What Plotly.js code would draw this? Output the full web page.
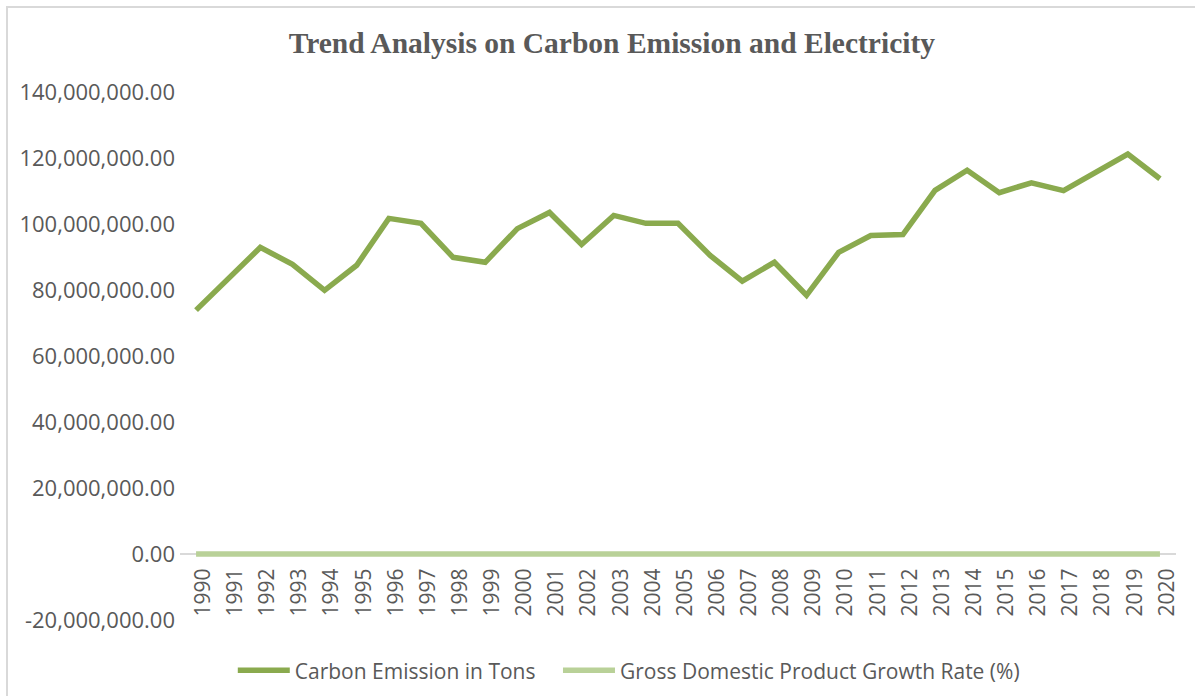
<!DOCTYPE html>
<html>
<head>
<meta charset="utf-8">
<script src="https://cdn.plot.ly/plotly-3.0.1.min.js"></script>
<style>
  html, body { margin: 0; padding: 0; background: #ffffff; }
  #wrap { position: relative; width: 1195px; height: 696px; overflow: hidden; }
  #frame { position: absolute; left: 6px; top: 6px; width: 1200px; height: 700px;
           border-left: 2px solid #d9d9d9; border-top: 2px solid #d9d9d9; pointer-events: none; }
  #chart { position: absolute; left: 0; top: 0; width: 1195px; height: 696px; }
</style>
</head>
<body>
<div id="wrap">
  <div id="chart"></div>
  <div id="frame"></div>
</div>
<script>
const years = ['1990','1991','1992','1993','1994','1995','1996','1997','1998','1999',
               '2000','2001','2002','2003','2004','2005','2006','2007','2008','2009',
               '2010','2011','2012','2013','2014','2015','2016','2017','2018','2019','2020'];

const carbonEmissionTons = [
  73900000, 83600000, 92900000, 87800000, 79900000, 87500000, 101700000, 100200000, 89900000, 88400000,
  98600000, 103500000, 93800000, 102600000, 100200000, 100200000, 90500000, 82700000, 88400000, 78400000,
  91400000, 96500000, 96800000, 110200000, 116300000, 109500000, 112500000, 110100000, 115500000, 121200000,
  113700000
];

const gdpGrowthRate = [
  0, 0, 0, 0, 0, 0, 0, 0, 0, 0,
  0, 0, 0, 0, 0, 0, 0, 0, 0, 0,
  0, 0, 0, 0, 0, 0, 0, 0, 0, 0,
  0
];

const yTickValues = [-20000000, 0, 20000000, 40000000, 60000000, 80000000, 100000000, 120000000, 140000000];
const yTickLabels = yTickValues.map(v =>
  (v < 0 ? '-' : '') + Math.abs(v).toLocaleString('en-US', {minimumFractionDigits: 2, maximumFractionDigits: 2}));

const seriesNames = ['Carbon Emission in Tons', 'Gross Domestic Product Growth Rate (%)'];
const titleText = 'Trend Analysis on Carbon Emission and Electricity';

const traces = [
  {
    x: years, y: carbonEmissionTons, name: seriesNames[0],
    type: 'scatter', mode: 'lines',
    line: {color: '#8aaa4e', width: 5.5},
    legend: 'legend'
  },
  {
    x: years, y: gdpGrowthRate, name: seriesNames[1],
    type: 'scatter', mode: 'lines',
    line: {color: '#b9d198', width: 5.5},
    legend: 'legend2'
  }
];

const legendFont = {family: '"Open Sans", sans-serif', size: 21, color: '#595959'};

const layout = {
  width: 1195, height: 696,
  paper_bgcolor: '#ffffff', plot_bgcolor: '#ffffff',
  margin: {l: 180, r: 19, t: 92, b: 76, pad: 0, autoexpand: false},
  title: {
    text: '<b>' + titleText + '</b>',
    font: {family: '"Liberation Serif", "Times New Roman", serif', size: 29.5, color: '#595959'},
    x: 0.512, xanchor: 'center', y: 1 - 43/696, yanchor: 'middle'
  },
  xaxis: {
    type: 'category',
    range: [-0.5, years.length - 0.5],
    anchor: 'free', position: 0.125,
    showline: true, linecolor: '#d9d9d9', linewidth: 2,
    layer: 'below traces',
    showgrid: false, zeroline: false,
    ticks: '', tickangle: -90,
    ticklabelshift: 7, ticklabelstandoff: 5,
    tickfont: {family: '"Open Sans", sans-serif', size: 21, color: '#595959'},
    automargin: false,
    fixedrange: true
  },
  yaxis: {
    range: [-20000000, 140000000],
    tickvals: yTickValues, ticktext: yTickLabels,
    showline: false, showgrid: false, zeroline: false,
    ticks: '', ticklabelstandoff: 4,
    tickfont: {family: '"Open Sans", sans-serif', size: 22, color: '#595959'},
    automargin: false,
    fixedrange: true
  },
  showlegend: true,
  legend: {
    orientation: 'h',
    x: 0.053, xanchor: 'left',
    y: -0.096, yanchor: 'middle',
    font: legendFont,
    itemwidth: 52,
    bgcolor: 'rgba(0,0,0,0)'
  },
  legend2: {
    orientation: 'h',
    x: 0.3795, xanchor: 'left',
    y: -0.096, yanchor: 'middle',
    font: legendFont,
    itemwidth: 52,
    bgcolor: 'rgba(0,0,0,0)'
  }
};

Plotly.newPlot('chart', traces, layout, {displayModeBar: false, staticPlot: true});
</script>
</body>
</html>
